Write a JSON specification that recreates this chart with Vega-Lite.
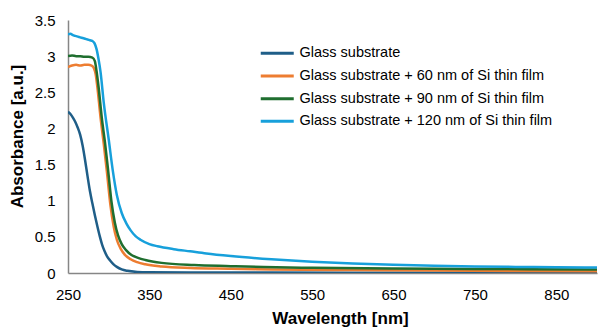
{
  "$schema": "https://vega.github.io/schema/vega-lite/v6.json",
  "width": 529,
  "height": 253,
  "autosize": "none",
  "padding": {"left": 68, "top": 20, "right": 2, "bottom": 58},
  "background": "white",
  "config": {"view": {"stroke": null}, "font": "Liberation Sans"},
  "data": {"values": [
    {"s": "Glass substrate", "x": 250, "y": 2.23},
    {"s": "Glass substrate", "x": 253, "y": 2.2},
    {"s": "Glass substrate", "x": 256, "y": 2.15},
    {"s": "Glass substrate", "x": 259, "y": 2.09},
    {"s": "Glass substrate", "x": 262, "y": 2.01},
    {"s": "Glass substrate", "x": 265, "y": 1.91},
    {"s": "Glass substrate", "x": 268, "y": 1.76},
    {"s": "Glass substrate", "x": 271, "y": 1.56},
    {"s": "Glass substrate", "x": 274, "y": 1.34},
    {"s": "Glass substrate", "x": 277, "y": 1.13},
    {"s": "Glass substrate", "x": 280, "y": 0.96},
    {"s": "Glass substrate", "x": 283, "y": 0.8},
    {"s": "Glass substrate", "x": 286, "y": 0.65},
    {"s": "Glass substrate", "x": 289, "y": 0.51},
    {"s": "Glass substrate", "x": 292, "y": 0.39},
    {"s": "Glass substrate", "x": 295, "y": 0.3},
    {"s": "Glass substrate", "x": 298, "y": 0.23},
    {"s": "Glass substrate", "x": 302, "y": 0.17},
    {"s": "Glass substrate", "x": 306, "y": 0.12},
    {"s": "Glass substrate", "x": 310, "y": 0.085},
    {"s": "Glass substrate", "x": 316, "y": 0.05},
    {"s": "Glass substrate", "x": 323, "y": 0.03},
    {"s": "Glass substrate", "x": 335, "y": 0.015},
    {"s": "Glass substrate", "x": 350, "y": 0.01},
    {"s": "Glass substrate", "x": 400, "y": 0.006},
    {"s": "Glass substrate", "x": 600, "y": 0.005},
    {"s": "Glass substrate", "x": 900, "y": 0.005},

    {"s": "Glass substrate + 60 nm of Si thin film", "x": 250, "y": 2.85},
    {"s": "Glass substrate + 60 nm of Si thin film", "x": 255, "y": 2.87},
    {"s": "Glass substrate + 60 nm of Si thin film", "x": 260, "y": 2.88},
    {"s": "Glass substrate + 60 nm of Si thin film", "x": 265, "y": 2.87},
    {"s": "Glass substrate + 60 nm of Si thin film", "x": 270, "y": 2.88},
    {"s": "Glass substrate + 60 nm of Si thin film", "x": 275, "y": 2.88},
    {"s": "Glass substrate + 60 nm of Si thin film", "x": 279, "y": 2.87},
    {"s": "Glass substrate + 60 nm of Si thin film", "x": 282, "y": 2.83},
    {"s": "Glass substrate + 60 nm of Si thin film", "x": 284, "y": 2.75},
    {"s": "Glass substrate + 60 nm of Si thin film", "x": 286, "y": 2.58},
    {"s": "Glass substrate + 60 nm of Si thin film", "x": 290, "y": 2.15},
    {"s": "Glass substrate + 60 nm of Si thin film", "x": 294, "y": 1.78},
    {"s": "Glass substrate + 60 nm of Si thin film", "x": 298, "y": 1.38},
    {"s": "Glass substrate + 60 nm of Si thin film", "x": 302, "y": 0.95},
    {"s": "Glass substrate + 60 nm of Si thin film", "x": 306, "y": 0.65},
    {"s": "Glass substrate + 60 nm of Si thin film", "x": 310, "y": 0.46},
    {"s": "Glass substrate + 60 nm of Si thin film", "x": 315, "y": 0.33},
    {"s": "Glass substrate + 60 nm of Si thin film", "x": 320, "y": 0.25},
    {"s": "Glass substrate + 60 nm of Si thin film", "x": 327, "y": 0.19},
    {"s": "Glass substrate + 60 nm of Si thin film", "x": 335, "y": 0.15},
    {"s": "Glass substrate + 60 nm of Si thin film", "x": 345, "y": 0.12},
    {"s": "Glass substrate + 60 nm of Si thin film", "x": 365, "y": 0.09},
    {"s": "Glass substrate + 60 nm of Si thin film", "x": 400, "y": 0.07},
    {"s": "Glass substrate + 60 nm of Si thin film", "x": 450, "y": 0.06},
    {"s": "Glass substrate + 60 nm of Si thin film", "x": 500, "y": 0.05},
    {"s": "Glass substrate + 60 nm of Si thin film", "x": 600, "y": 0.04},
    {"s": "Glass substrate + 60 nm of Si thin film", "x": 700, "y": 0.033},
    {"s": "Glass substrate + 60 nm of Si thin film", "x": 800, "y": 0.028},
    {"s": "Glass substrate + 60 nm of Si thin film", "x": 900, "y": 0.025},

    {"s": "Glass substrate + 90 nm of Si thin film", "x": 250, "y": 3.0},
    {"s": "Glass substrate + 90 nm of Si thin film", "x": 255, "y": 3.01},
    {"s": "Glass substrate + 90 nm of Si thin film", "x": 260, "y": 3.0},
    {"s": "Glass substrate + 90 nm of Si thin film", "x": 265, "y": 3.0},
    {"s": "Glass substrate + 90 nm of Si thin film", "x": 270, "y": 2.99},
    {"s": "Glass substrate + 90 nm of Si thin film", "x": 275, "y": 2.99},
    {"s": "Glass substrate + 90 nm of Si thin film", "x": 280, "y": 2.98},
    {"s": "Glass substrate + 90 nm of Si thin film", "x": 283, "y": 2.93},
    {"s": "Glass substrate + 90 nm of Si thin film", "x": 285, "y": 2.8},
    {"s": "Glass substrate + 90 nm of Si thin film", "x": 287.5, "y": 2.58},
    {"s": "Glass substrate + 90 nm of Si thin film", "x": 291.5, "y": 2.15},
    {"s": "Glass substrate + 90 nm of Si thin film", "x": 295.5, "y": 1.8},
    {"s": "Glass substrate + 90 nm of Si thin film", "x": 299.5, "y": 1.4},
    {"s": "Glass substrate + 90 nm of Si thin film", "x": 303.5, "y": 0.98},
    {"s": "Glass substrate + 90 nm of Si thin film", "x": 307.5, "y": 0.7},
    {"s": "Glass substrate + 90 nm of Si thin film", "x": 311.5, "y": 0.52},
    {"s": "Glass substrate + 90 nm of Si thin film", "x": 316, "y": 0.4},
    {"s": "Glass substrate + 90 nm of Si thin film", "x": 321, "y": 0.32},
    {"s": "Glass substrate + 90 nm of Si thin film", "x": 328, "y": 0.25},
    {"s": "Glass substrate + 90 nm of Si thin film", "x": 336, "y": 0.21},
    {"s": "Glass substrate + 90 nm of Si thin film", "x": 345, "y": 0.18},
    {"s": "Glass substrate + 90 nm of Si thin film", "x": 365, "y": 0.14},
    {"s": "Glass substrate + 90 nm of Si thin film", "x": 405, "y": 0.11},
    {"s": "Glass substrate + 90 nm of Si thin film", "x": 450, "y": 0.095},
    {"s": "Glass substrate + 90 nm of Si thin film", "x": 490, "y": 0.082},
    {"s": "Glass substrate + 90 nm of Si thin film", "x": 550, "y": 0.072},
    {"s": "Glass substrate + 90 nm of Si thin film", "x": 650, "y": 0.062},
    {"s": "Glass substrate + 90 nm of Si thin film", "x": 750, "y": 0.056},
    {"s": "Glass substrate + 90 nm of Si thin film", "x": 900, "y": 0.05},

    {"s": "Glass substrate + 120 nm of Si thin film", "x": 250, "y": 3.3},
    {"s": "Glass substrate + 120 nm of Si thin film", "x": 253, "y": 3.31},
    {"s": "Glass substrate + 120 nm of Si thin film", "x": 256, "y": 3.29},
    {"s": "Glass substrate + 120 nm of Si thin film", "x": 259, "y": 3.28},
    {"s": "Glass substrate + 120 nm of Si thin film", "x": 262, "y": 3.27},
    {"s": "Glass substrate + 120 nm of Si thin film", "x": 265, "y": 3.26},
    {"s": "Glass substrate + 120 nm of Si thin film", "x": 268, "y": 3.25},
    {"s": "Glass substrate + 120 nm of Si thin film", "x": 271, "y": 3.24},
    {"s": "Glass substrate + 120 nm of Si thin film", "x": 274, "y": 3.23},
    {"s": "Glass substrate + 120 nm of Si thin film", "x": 277, "y": 3.22},
    {"s": "Glass substrate + 120 nm of Si thin film", "x": 280, "y": 3.21},
    {"s": "Glass substrate + 120 nm of Si thin film", "x": 282.5, "y": 3.18},
    {"s": "Glass substrate + 120 nm of Si thin film", "x": 285, "y": 3.1},
    {"s": "Glass substrate + 120 nm of Si thin film", "x": 287.5, "y": 2.96},
    {"s": "Glass substrate + 120 nm of Si thin film", "x": 290, "y": 2.78},
    {"s": "Glass substrate + 120 nm of Si thin film", "x": 294, "y": 2.35},
    {"s": "Glass substrate + 120 nm of Si thin film", "x": 300, "y": 1.85},
    {"s": "Glass substrate + 120 nm of Si thin film", "x": 305, "y": 1.42},
    {"s": "Glass substrate + 120 nm of Si thin film", "x": 310, "y": 1.08},
    {"s": "Glass substrate + 120 nm of Si thin film", "x": 316, "y": 0.83},
    {"s": "Glass substrate + 120 nm of Si thin film", "x": 322, "y": 0.68},
    {"s": "Glass substrate + 120 nm of Si thin film", "x": 327, "y": 0.59},
    {"s": "Glass substrate + 120 nm of Si thin film", "x": 333, "y": 0.51},
    {"s": "Glass substrate + 120 nm of Si thin film", "x": 339, "y": 0.46},
    {"s": "Glass substrate + 120 nm of Si thin film", "x": 350, "y": 0.4},
    {"s": "Glass substrate + 120 nm of Si thin film", "x": 360, "y": 0.37},
    {"s": "Glass substrate + 120 nm of Si thin film", "x": 380, "y": 0.33},
    {"s": "Glass substrate + 120 nm of Si thin film", "x": 400, "y": 0.3},
    {"s": "Glass substrate + 120 nm of Si thin film", "x": 420, "y": 0.27},
    {"s": "Glass substrate + 120 nm of Si thin film", "x": 450, "y": 0.235},
    {"s": "Glass substrate + 120 nm of Si thin film", "x": 500, "y": 0.19},
    {"s": "Glass substrate + 120 nm of Si thin film", "x": 550, "y": 0.155},
    {"s": "Glass substrate + 120 nm of Si thin film", "x": 600, "y": 0.13},
    {"s": "Glass substrate + 120 nm of Si thin film", "x": 650, "y": 0.113},
    {"s": "Glass substrate + 120 nm of Si thin film", "x": 700, "y": 0.1},
    {"s": "Glass substrate + 120 nm of Si thin film", "x": 750, "y": 0.09},
    {"s": "Glass substrate + 120 nm of Si thin film", "x": 800, "y": 0.084},
    {"s": "Glass substrate + 120 nm of Si thin film", "x": 850, "y": 0.079},
    {"s": "Glass substrate + 120 nm of Si thin film", "x": 900, "y": 0.075}
  ]},
  "mark": {"type": "line", "strokeWidth": 2.5, "interpolate": "monotone", "clip": true},
  "encoding": {
    "x": {
      "field": "x", "type": "quantitative",
      "scale": {"domain": [250, 900], "nice": false, "zero": false},
      "axis": {
        "title": "Wavelength [nm]",
        "values": [250, 350, 450, 550, 650, 750, 850],
        "grid": false, "ticks": false, "tickSize": 0,
        "domainColor": "#868686", "domainWidth": 1.5,
        "labelFont": "Liberation Sans", "labelFontSize": 15, "labelColor": "#000000",
        "labelPadding": 14, "labelFlush": false,
        "titleFont": "Liberation Sans", "titleFontSize": 17, "titleFontWeight": "bold", "titleColor": "#000000",
        "titlePadding": 8, "titleX": 272
      }
    },
    "y": {
      "field": "y", "type": "quantitative",
      "scale": {"domain": [0, 3.5], "nice": false},
      "axis": {
        "title": "Absorbance [a.u.]",
        "values": [0, 0.5, 1, 1.5, 2, 2.5, 3, 3.5],
        "format": "~g",
        "grid": false, "ticks": false, "tickSize": 0,
        "domainColor": "#868686", "domainWidth": 1.5,
        "labelFont": "Liberation Sans", "labelFontSize": 15, "labelColor": "#000000",
        "labelPadding": 13,
        "titleFont": "Liberation Sans", "titleFontSize": 17, "titleFontWeight": "bold", "titleColor": "#000000",
        "titlePadding": 8, "titleY": 116
      }
    },
    "color": {
      "field": "s", "type": "nominal",
      "scale": {
        "domain": ["Glass substrate", "Glass substrate + 60 nm of Si thin film", "Glass substrate + 90 nm of Si thin film", "Glass substrate + 120 nm of Si thin film"],
        "range": ["#1F5E88", "#ED7D31", "#1F6E2F", "#17A0DB"]
      },
      "legend": {
        "title": null,
        "orient": "none",
        "legendX": 191,
        "legendY": 26,
        "symbolType": "M-1,0H5",
        "symbolSize": 121,
        "symbolStrokeWidth": 3,
        "labelFont": "Liberation Sans",
        "labelFontSize": 14.5,
        "labelColor": "#000000",
        "labelOffset": 26,
        "rowPadding": 7.7,
        "labelLimit": 400
      }
    }
  }
}
